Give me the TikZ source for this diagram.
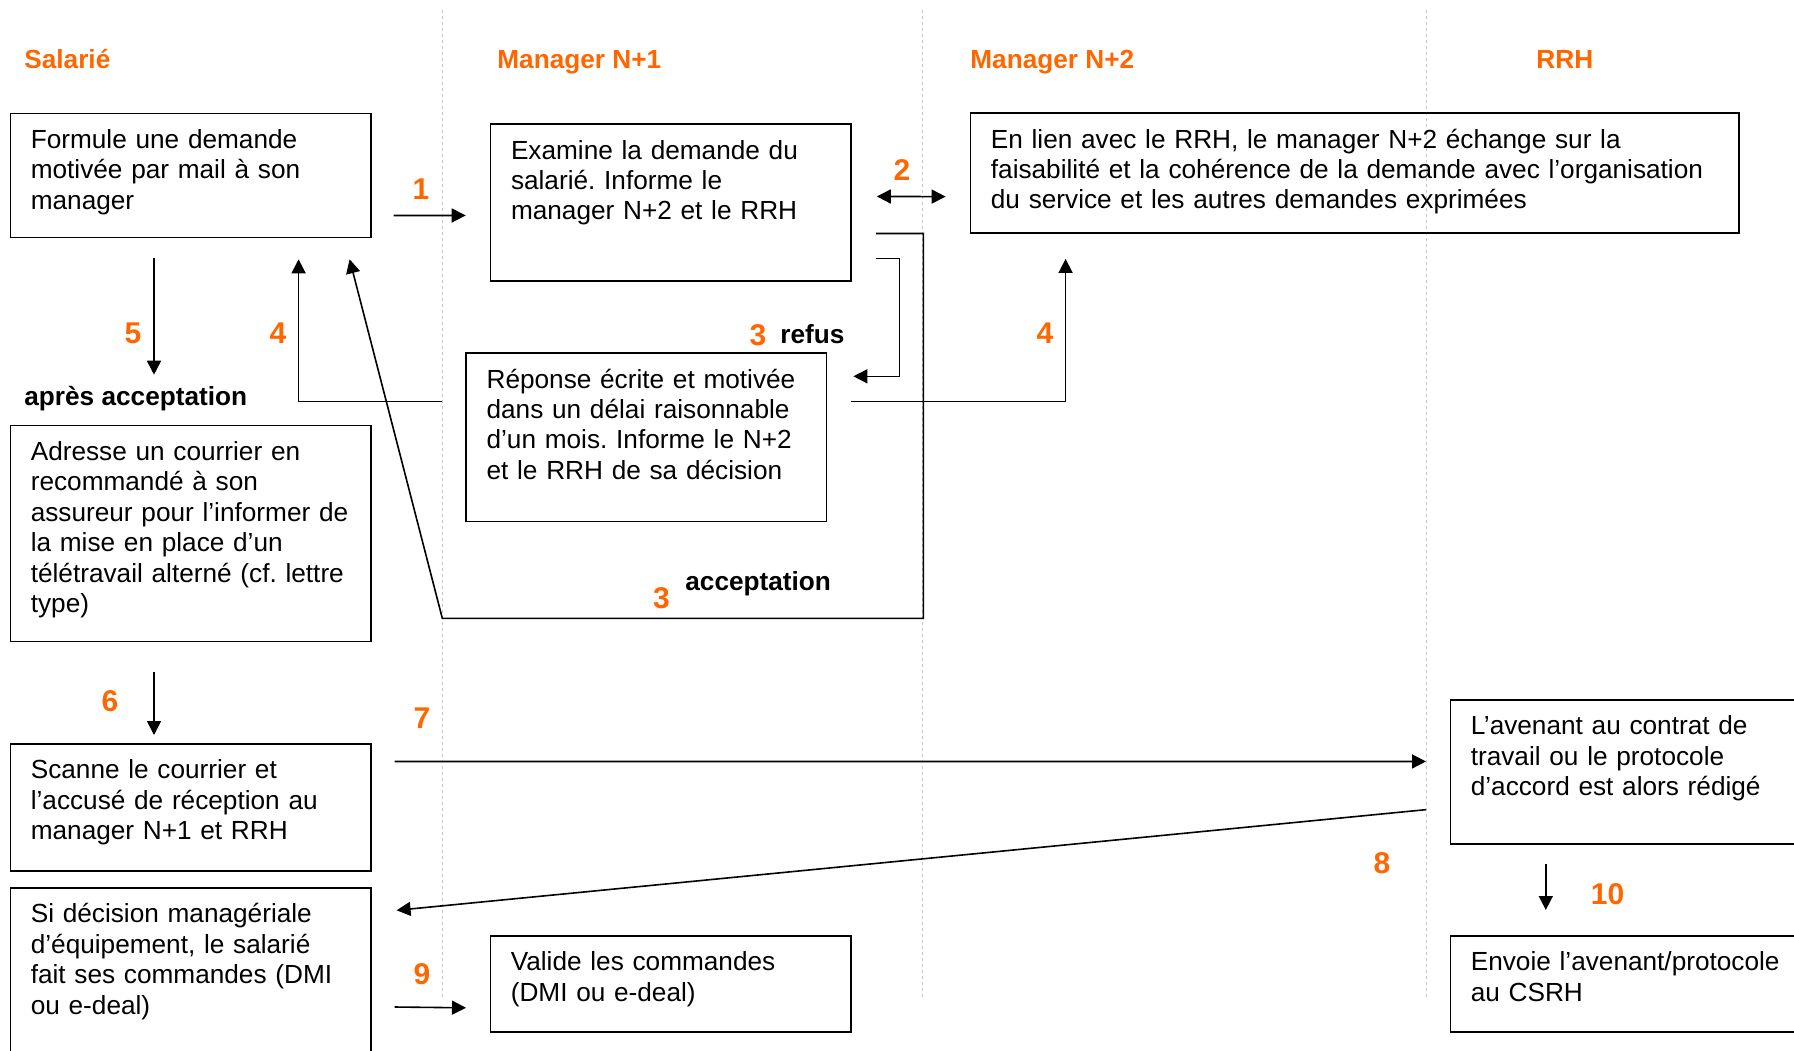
\documentclass[tikz,border=0pt]{standalone}
\usepackage{fontspec}
\setmainfont{Liberation Sans}
\usepackage{tikz}
\usetikzlibrary{calc, arrows.meta}

\definecolor{stepcol}{RGB}{255,102,0}
\newcommand{\boxfont}{\fontsize{13.1}{15.2}\selectfont}
\newcommand{\numfont}{\bfseries\fontsize{15}{18}\selectfont}
\AtBeginDocument{\frenchspacing}

\begin{document}
\begin{tikzpicture}[x=0.5pt, y=-0.5pt,
act/.style={draw, line width=0.8pt, anchor=north west, align=left, inner xsep=10.25pt, inner ysep=0pt, text width=159.75pt, text height=17.5pt, font=\boxfont},
lane/.style={gray!45, line width=0.5pt, dash pattern=on 1.5pt off 1.5pt},
actor/.style={anchor=base west, inner sep=0pt, text=stepcol, font=\bfseries\boxfont},
num/.style={anchor=base, inner sep=0pt, text=stepcol, font=\numfont},
cond/.style={anchor=base west, inner sep=0pt, font=\bfseries\boxfont},
arr/.style={-{Triangle[length=7pt, width=7pt]}, line width=0.8pt}]
    \useasboundingbox (0,0) rectangle (1794,1050);

    % swim lanes
    \foreach \lx in {442,922,1426}
      \draw[lane] (\lx,10) -- (\lx,997);

    \node[actor] (tSal) at (24,68) {Salarié};
    \node[actor] (tN1) at (497,68) {Manager N+1};
    \node[actor] (tN2) at (970,68) {Manager N+2};
    \node[actor] (tRRH) at (1536,68) {RRH};

    % activities
    \node[act, text depth=44.5pt] (demande) at (9.5,112.7) {Formule une demande\\ motivée par mail à son\\ manager};
    \node[act, text depth=60.85pt] (examen) at (489.7,123.3) {Examine la demande du\\ salarié. Informe le\\ manager N+2 et le RRH};
    \node[act, text width=363.7pt, text depth=42.5pt] (echange) at (969.6,112.3) {En lien avec le RRH, le manager N+2 échange sur la\\ faisabilité et la cohérence de la demande avec l’organisation\\ du service et les autres demandes exprimées};
    \node[act, text depth=66.7pt] (reponse) at (465.3,352.3) {Réponse écrite et motivée\\ dans un délai raisonnable\\ d’un mois. Informe le N+2\\ et le RRH de sa décision};
    \node[act, text depth=90.5pt] (courrier) at (9.5,424.7) {Adresse un courrier en\\ recommandé à son\\ \mbox{assureur pour l’informer de}\\ la mise en place d’un\\ télétravail alterné (cf. lettre\\ type)};
    \node[act, text depth=46pt] (scan) at (9.5,743) {Scanne le courrier et\\ l’accusé de réception au\\ manager N+1 et RRH};
    \node[act, text depth=80pt] (commande) at (9.5,887) {Si décision managériale\\ d’équipement, le salarié\\ fait ses commandes (DMI\\ ou e-deal)};
    \node[act, text depth=30.5pt] (valide) at (489.5,935) {Valide les commandes\\ (DMI ou e-deal)};
    \node[act, text depth=54.65pt] (avenant) at (1449.5,699) {L’avenant au contrat de\\ travail ou le protocole\\ d’accord est alors rédigé};
    \node[act, text depth=30.5pt] (envoi) at (1449.5,935) {Envoie l’avenant/protocole\\ au CSRH};

    % flow
    \draw[arr] ($(demande.east)+(22,40)$) -- ($(examen.west)+(-24,13)$);
    \draw[arr, {Triangle[length=7pt, width=7pt]}-{Triangle[length=7pt, width=7pt]}] ($(examen.east)+(25,-6)$) -- ($(echange.west)+(-24,23.5)$);
    \draw[arr] ($(examen.south east)+(24,-23)$) -| ($(reponse.north east)+(72,24)$) -- ($(reponse.north east)+(26,24)$);
    \draw[arr] ($(examen.east)+(24,31)$) -| ($(reponse.south east)+(96,96)$) -- ($(reponse.south west)+(-23,96)$) -- ($(demande.south east)+(-22,21)$);
    \draw[arr] ($(reponse.west)+(-23,-36)$) -| ($(demande.south east)+(-73,21)$);
    \draw[arr] ($(reponse.east)+(24,-36)$) -| ($(echange.south west)+(96,25)$);
    \draw[arr] ($(demande.south west)+(144.5,20)$) -- ($(courrier.north west)+(144.5,-50)$);
    \draw[arr] ($(courrier.south west)+(144.5,30)$) -- ($(scan.north west)+(144.5,-8)$);
    \draw[arr] ($(scan.east)+(23,-45.8)$) -- ($(avenant.west)+(-23.5,-10.5)$);
    \draw[arr] ($(avenant.west)+(-23.5,37.7)$) -- ($(commande.north east)+(25,23.3)$);
    \draw[arr] ($(commande.north east)+(23,120)$) -- ($(valide.west)+(-23.5,24)$);
    \draw[arr] ($(avenant.south west)+(96.3,19.4)$) -- ($(envoi.north west)+(96.3,-25)$);

    % step numbers
    \node[num] (n1) at (421,199) {1};
    \node[num] (n2) at (902,180) {2};
    \node[num] (n3r) at (758,345) {3};
    \node[cond] (refus) at (780,343) {refus};
    \node[num] (n4l) at (278,343) {4};
    \node[num] (n4r) at (1045,343) {4};
    \node[num] (n5) at (133,343) {5};
    \node[cond] (apres) at (24,405) {après acceptation};
    \node[num] (n3a) at (661.5,608) {3};
    \node[cond] (accept) at (685,590) {acceptation};
    \node[num] (n6) at (110,711) {6};
    \node[num] (n7) at (422,728) {7};
    \node[num] (n8) at (1382,873) {8};
    \node[num] (n9) at (422,984) {9};
    \node[num] (n10) at (1607.5,904) {10};
\end{tikzpicture}
\end{document}
